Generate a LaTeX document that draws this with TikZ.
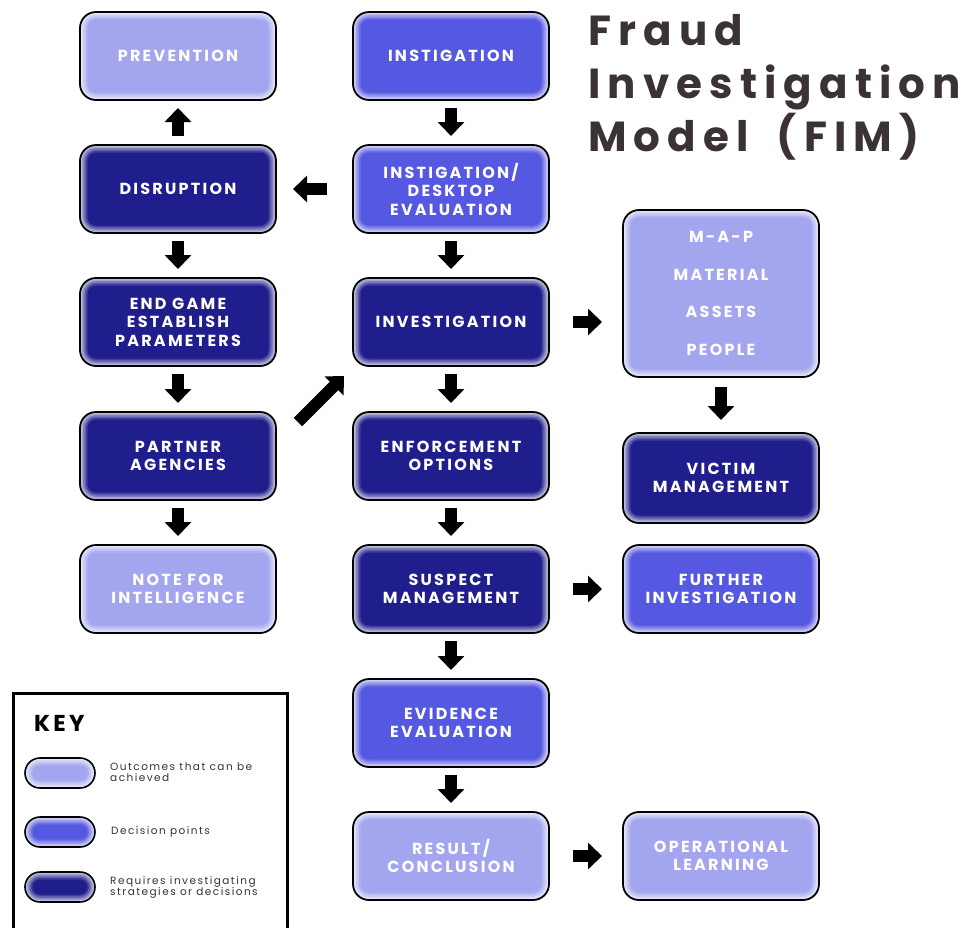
\documentclass[tikz,border=0pt]{standalone}
\usepackage{fontspec}
\usetikzlibrary{arrows.meta,calc}
\newfontfamily\boxfont{Poppins}[LetterSpace=14]
\newfontfamily\titlefont{Poppins}[LetterSpace=17]
\newfontfamily\keyfont{Poppins}[LetterSpace=14]
\definecolor{fimlight}{HTML}{A3A6EE}
\definecolor{fimmid}{HTML}{5558E0}
\definecolor{fimdark}{HTML}{1F1E8C}
\definecolor{titlegray}{HTML}{3B3237}
\definecolor{keygray}{HTML}{333333}
\tikzset{
  fimglow/.style 2 args={fill=#1!25!white, path picture={
    \foreach \gd/\gm in {1.5/40,3/56,4.5/71,6/86,7.5/100}{
      \pgfmathsetmacro\rr{#2-\gd}
      \fill[#1!\gm!white, rounded corners=\rr pt]
        ($(path picture bounding box.south west)+(\gd pt,\gd pt)$) rectangle
        ($(path picture bounding box.north east)+(-\gd pt,-\gd pt)$);
    }}},
  fimbox/.style={draw=black, line width=1.8pt, rounded corners=16pt,
    minimum width=196pt, minimum height=88pt, inner sep=0pt, outer sep=0pt,
    align=center, text=white,
    font=\boxfont\bfseries\fontsize{16}{18.5}\selectfont, fimglow={#1}{16}},
  pill/.style={draw=black, line width=1.6pt, rounded corners=15pt,
    minimum width=70pt, minimum height=30pt, inner sep=0pt, outer sep=0pt,
    fimglow={#1}{15}},
  blk/.style={line width=12pt, -{Triangle[width=26pt,length=14pt]}},
  keytext/.style={anchor=west, align=left, inner sep=0pt, text=keygray,
    font=\keyfont\fontsize{10.5}{11}\selectfont},
}
\begin{document}
\begin{tikzpicture}[x=1pt,y=-1pt]
\useasboundingbox (0,0) rectangle (971,927);
\fill[white] (0,0) rectangle (971,927);

% title
\node[anchor=north west, align=left, inner sep=0pt, text=titlegray,
  font=\titlefont\bfseries\fontsize{42}{53}\selectfont] (title) at (588,14)
  {Fraud\\Investigation\\Model\hspace{12pt} (FIM)};

% left column
\node[fimbox=fimlight] (prev) at (178,56) {PREVENTION};
\node[fimbox=fimdark] (disr) at (178,189) {DISRUPTION};
\node[fimbox=fimdark] (endg) at (178,322) {END GAME\\ESTABLISH\\PARAMETERS};
\node[fimbox=fimdark] (part) at (178,456) {PARTNER\\AGENCIES};
\node[fimbox=fimlight] (note) at (178,589) {NOTE FOR\\INTELLIGENCE};

% centre column
\node[fimbox=fimmid] (inst) at (451,56) {INSTIGATION};
\node[fimbox=fimmid] (desk) at (451,189) {INSTIGATION/\\DESKTOP\\EVALUATION};
\node[fimbox=fimdark] (inv) at (451,322) {INVESTIGATION};
\node[fimbox=fimdark] (enf) at (451,456) {ENFORCEMENT\\OPTIONS};
\node[fimbox=fimdark] (susp) at (451,589) {SUSPECT\\MANAGEMENT};
\node[fimbox=fimmid] (evid) at (451,723) {EVIDENCE\\EVALUATION};
\node[fimbox=fimlight] (res) at (451,856) {RESULT/\\CONCLUSION};

% right column
\node[fimbox=fimlight, minimum height=167pt,
  font=\boxfont\bfseries\fontsize{16}{37.7}\selectfont] (map) at (721,293.5)
  {M-A-P\\MATERIAL\\ASSETS\\PEOPLE};
\node[fimbox=fimdark, minimum height=90pt] (vict) at (721,478) {VICTIM\\MANAGEMENT};
\node[fimbox=fimmid] (furt) at (721,589) {FURTHER\\INVESTIGATION};
\node[fimbox=fimlight] (oper) at (721,856) {OPERATIONAL\\LEARNING};

% arrows
\draw[blk, shorten <=9pt, shorten >=8pt] (disr) -- (prev);
\draw[blk, shorten <=8pt, shorten >=9pt] (disr) -- (endg);
\draw[blk, shorten <=8pt, shorten >=9pt] (endg) -- (part);
\draw[blk, shorten <=8pt, shorten >=9pt] (part) -- (note);
\draw[blk, shorten <=8pt, shorten >=9pt] (inst) -- (desk);
\draw[blk, shorten <=8pt, shorten >=9pt] (desk) -- (inv);
\draw[blk, shorten <=8pt, shorten >=9pt] (inv) -- (enf);
\draw[blk, shorten <=8pt, shorten >=9pt] (enf) -- (susp);
\draw[blk, shorten <=8pt, shorten >=9pt] (susp) -- (evid);
\draw[blk, shorten <=8pt, shorten >=9pt] (evid) -- (res);
\draw[blk, shorten <=26pt, shorten >=17pt] (desk) -- (disr);
\draw[blk, shorten <=24pt, shorten >=21pt] (inv.east) -- (inv.east -| map.west);
\draw[blk, shorten <=10pt, shorten >=13pt] (map) -- (vict);
\draw[blk, shorten <=24pt, shorten >=21pt] (susp) -- (furt);
\draw[blk, shorten <=24pt, shorten >=21pt] (res) -- (oper);
\coordinate (diagA) at (298,422);
\coordinate (diagB) at (344,376);
\draw[blk] (diagA) -- (diagB);

% key
\node[draw=black, line width=3pt, anchor=north west, minimum width=274pt,
  minimum height=260pt, inner sep=0pt] (keyframe) at (11.5,691.5) {};
\node[anchor=west, inner sep=0pt, text=black,
  font=\keyfont\bfseries\fontsize{23}{23}\selectfont] (keytitle) at (34,723) {KEY};
\node[pill=fimlight] (k1) at (60,773) {};
\node[pill=fimmid] (k2) at (60,832) {};
\node[pill=fimdark] (k3) at (60,887) {};
\node[keytext] (k1t) at (110,772.5) {Outcomes that can be\\achieved};
\node[keytext] (k2t) at (111,832) {Decision points};
\node[keytext] (k3t) at (110,887.5) {Requires investigating\\strategies or decisions};
\end{tikzpicture}
\end{document}
